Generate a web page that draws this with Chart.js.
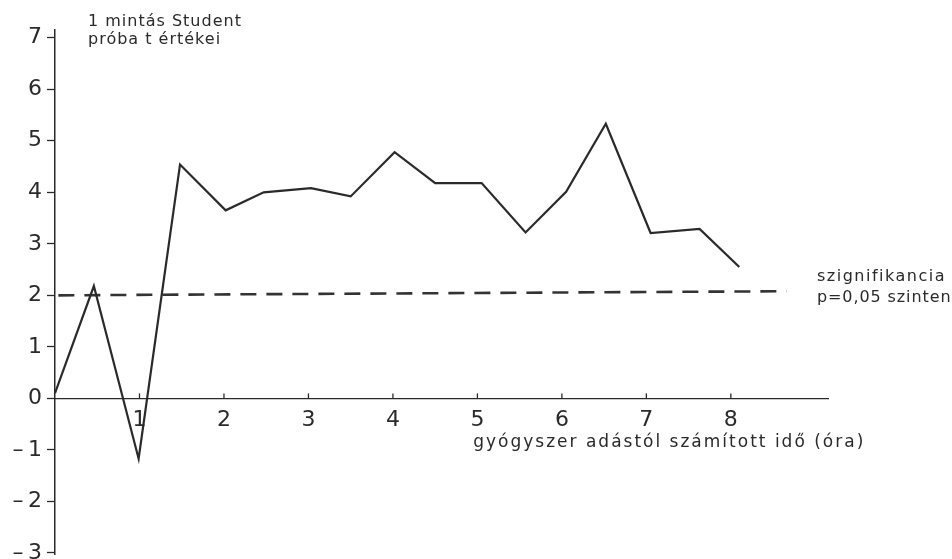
<!DOCTYPE html>
<html>
<head>
<meta charset="UTF-8">
<script src="https://cdn.jsdelivr.net/npm/chart.js@4.4.1/dist/chart.umd.min.js"></script>
<title>Student próba</title>
<style type="text/css">
	body{margin:0;background:#fff}
	canvas{display:block}
</style>
</head>
<body>
<canvas id="myChart" width="952" height="559"></canvas>
<script>
// mérési időpontok (óra) és a t értékek
var hours = [0, 0.46, 0.99, 1.48, 2.02, 2.47, 3.03, 3.5, 4.02, 4.5, 5.05, 5.57, 6.05, 6.52, 7.05, 7.63, 8.1];
var tValues = [0.1, 2.18, -1.17, 4.54, 3.65, 4.0, 4.08, 3.92, 4.78, 4.18, 4.18, 3.22, 4.01, 5.33, 3.21, 3.29, 2.55];
// szignifikancia határ (p=0,05)
var sigHours = [0.04, 8.66];
var sigValues = [2.0, 2.08];
var xTicks = [1, 2, 3, 4, 5, 6, 7, 8];
var yTicks = [-3, -2, -1, 0, 1, 2, 3, 4, 5, 6, 7];

var ink = '#2a2a2a';
var fontName = "'DejaVu Sans', sans-serif";

function toPoints(xs, ys){
	var pts = [];
	for (var i = 0; i < xs.length; i++) pts.push({x: xs[i], y: ys[i]});
	return pts;
}

// feliratok és felfelé álló x osztások
var labelsPlugin = {
	id: 'labels',
	afterDraw: function(chart){
		var ctx = chart.ctx, a = chart.chartArea;
		var xs = chart.scales.x, ys = chart.scales.y;
		var y0 = ys.getPixelForValue(0);
		ctx.save();
		ctx.strokeStyle = ink;
		ctx.lineWidth = 1.3;
		for (var i = 0; i < xTicks.length; i++) {
			var px = xs.getPixelForValue(xTicks[i]);
			ctx.beginPath();
			ctx.moveTo(px, y0);
			ctx.lineTo(px, y0 - 5);
			ctx.stroke();
		}
		ctx.fillStyle = ink;
		ctx.textBaseline = 'middle';
		ctx.textAlign = 'left';
		ctx.letterSpacing = '1px';
		ctx.font = '16px ' + fontName;
		ctx.fillText('1 mintás Student', a.left + 33, 22);
		ctx.fillText('próba t értékei', a.left + 33, 40);
		var y2 = ys.getPixelForValue(2);
		ctx.letterSpacing = '1.5px';
		ctx.fillText('szignifikancia', a.right - 11, y2 - 19);
		ctx.letterSpacing = '0.9px';
		ctx.fillText('p=0,05 szinten', a.right - 11, y2 + 2);
		ctx.letterSpacing = '2px';
		ctx.font = '17px ' + fontName;
		ctx.fillText('gyógyszer adástól számított idő (óra)', xs.getPixelForValue(4.95), y0 + 44);
		ctx.restore();
	}
};

var ctx = document.getElementById("myChart").getContext('2d');
var myChart = new Chart(ctx, {
	type: 'line',
	data: {
		datasets: [{
			data: toPoints(hours, tValues),
			borderColor: ink,
			borderWidth: 2.2,
			pointRadius: 0,
			fill: false,
			tension: 0
		}, {
			data: toPoints(sigHours, sigValues),
			borderColor: '#333',
			borderWidth: 2.6,
			borderDash: [16, 10],
			pointRadius: 0,
			fill: false
		}]
	},
	options: {
		responsive: false,
		animation: false,
		layout: {padding: {top: 30, right: 124, bottom: 5, left: 0}},
		plugins: {legend: {display: false}, tooltip: {enabled: false}},
		scales: {
			x: {
				type: 'linear',
				min: 0,
				max: 9.15,
				position: {y: 0},
				afterBuildTicks: function(s){ s.ticks = xTicks.map(function(v){ return {value: v}; }); },
				grid: {drawOnChartArea: false, drawTicks: false},
				border: {color: ink, width: 1.3},
				ticks: {color: ink, padding: 9, font: {family: fontName, size: 22}}
			},
			y: {
				min: -3.02,
				max: 7.15,
				afterBuildTicks: function(s){ s.ticks = yTicks.map(function(v){ return {value: v}; }); },
				afterFit: function(s){ s.width = 55; s.paddingTop = 0; s.paddingBottom = 0; },
				grid: {drawOnChartArea: false, tickLength: 8, tickColor: ink, tickWidth: 1.3},
				border: {color: ink, width: 1.5},
				ticks: {
					color: ink,
					padding: 5,
					font: {family: fontName, size: 22},
					callback: function(v){ return v < 0 ? '\u2013\u2009' + Math.abs(v) : '' + v; }
				}
			}
		}
	},
	plugins: [labelsPlugin]
});
</script>
</body>
</html>
